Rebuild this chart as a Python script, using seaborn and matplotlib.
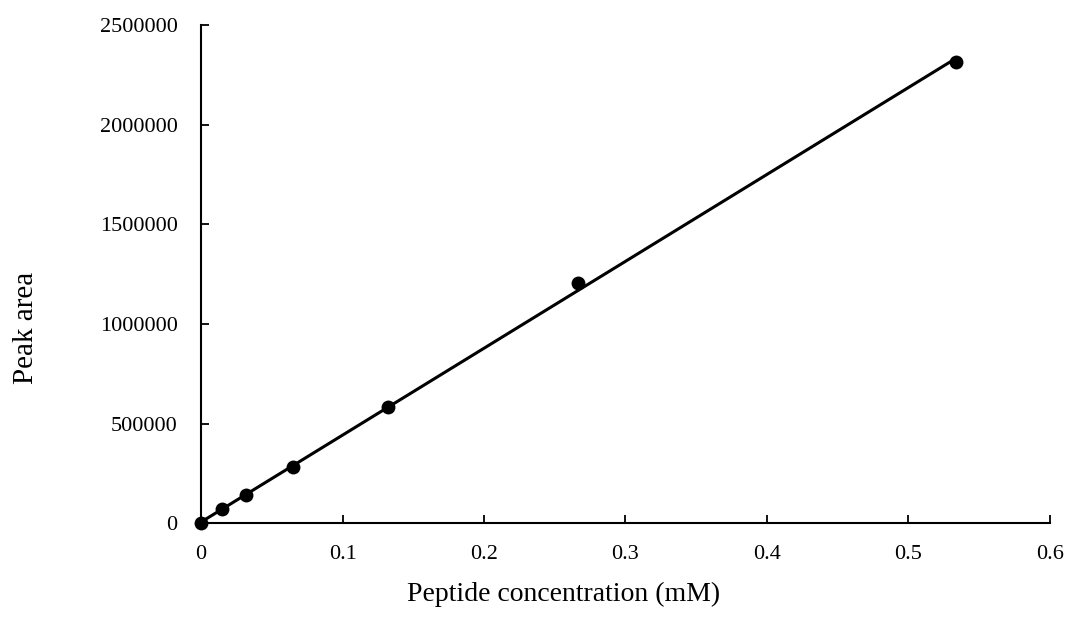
import matplotlib
matplotlib.use("Agg")
import matplotlib.pyplot as plt
import seaborn as sns
import pandas as pd

# concentrazioni (mM) e aree dei picchi
concentrazione = [0.0, 0.015, 0.032, 0.065, 0.132, 0.2665, 0.534]
area_picco = [0, 70000, 140000, 283000, 583000, 1205000, 2318000]

x_ticks = [0, 0.1, 0.2, 0.3, 0.4, 0.5, 0.6]
y_ticks = [0, 500000, 1000000, 1500000, 2000000, 2500000]

df = pd.DataFrame({'conc': concentrazione, 'area': area_picco})

sns.set_style('ticks', {'text.color': 'black', 'axes.labelcolor': 'black',
                        'xtick.color': 'black', 'ytick.color': 'black',
                        'axes.edgecolor': 'black'})
plt.rcParams['font.family'] = ['Liberation Serif', 'DejaVu Serif']

fig = plt.figure(figsize=(10.7, 6.17), dpi=100)
ax = fig.add_axes([0.188, 0.152, 0.793, 0.807])

sns.regplot(data=df, x='conc', y='area', ax=ax, ci=None, color='black',
            scatter_kws={'s': 100, 'zorder': 3, 'linewidths': 0,
                         'alpha': 1, 'clip_on': False},
            line_kws={'lw': 2.2})

ax.set_xlim(0, 0.6)
ax.set_ylim(0, 2500000)
ax.set_xticks(x_ticks)
ax.set_xticklabels([f'{t:g}' for t in x_ticks])
ax.set_yticks(y_ticks)
ax.set_yticklabels([str(t) for t in y_ticks])

ax.tick_params(axis='x', direction='in', length=6, width=1.3, labelsize=16, pad=16)
ax.tick_params(axis='y', direction='in', length=6, width=1.3, labelsize=16, pad=17)
for s in ['left', 'bottom']:
    ax.spines[s].set_linewidth(1.5)
sns.despine(ax=ax)

ax.set_xlabel('Peptide concentration (mM)', fontsize=20)
ax.set_ylabel('Peak area', fontsize=21)
ax.xaxis.set_label_coords(0.4276, -0.117)
ax.yaxis.set_label_coords(-0.191, 0.392)

fig.savefig('out.png', dpi=100)
